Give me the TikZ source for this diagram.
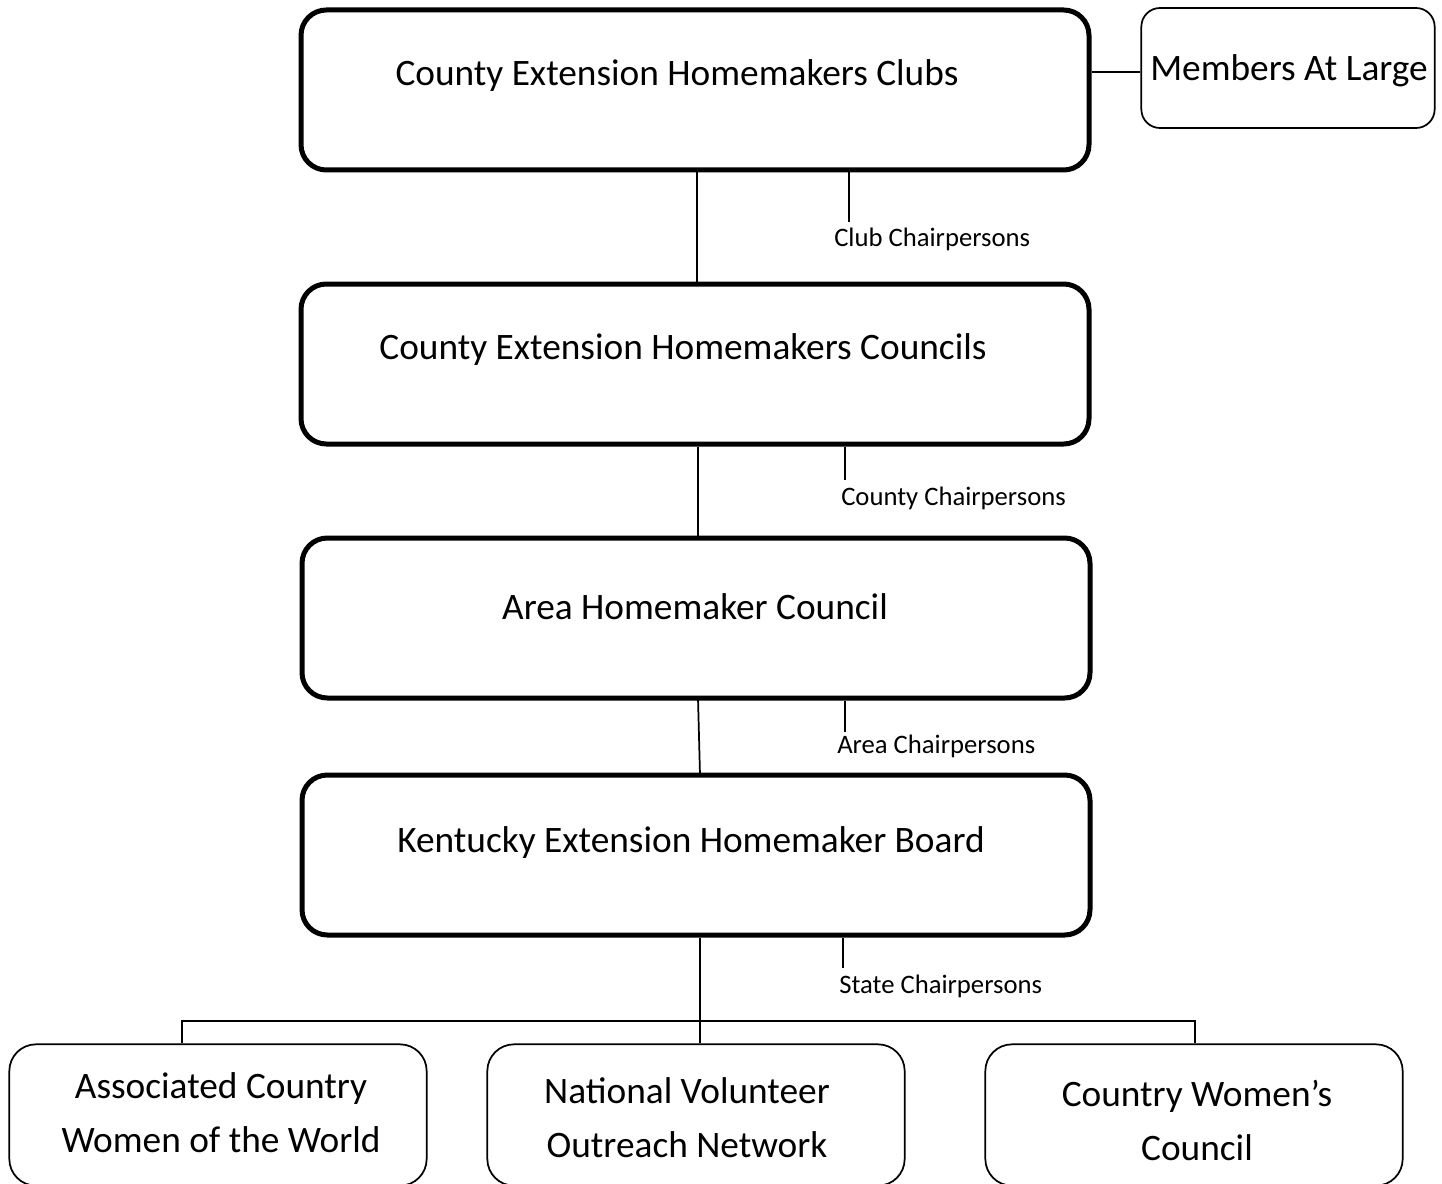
\documentclass[tikz,border=0pt]{standalone}
\usepackage{fontspec}
\setmainfont{Carlito}
\begin{document}
\begin{tikzpicture}[x=0.75pt,y=-0.75pt,
  bigbox/.style={draw,line width=3.75pt,rounded corners=19pt,minimum width=591pt,minimum height=120pt,inner sep=0pt},
  smallbox/.style={draw,line width=1.3pt,rounded corners=14pt,minimum width=220pt,minimum height=90pt,inner sep=0pt},
  botbox/.style={draw,line width=1.3pt,rounded corners=20pt,minimum width=313pt,minimum height=106pt,inner sep=0pt},
  bigtxt/.style={font=\fontsize{28}{32}\selectfont,inner sep=0pt},
  bottxt/.style={font=\fontsize{28}{40.5}\selectfont,inner sep=0pt,align=center},
  chtxt/.style={font=\fontsize{20}{24}\selectfont,inner sep=0pt,anchor=west},
  conn/.style={line width=1.3pt}]
\useasboundingbox (0,0) rectangle (1442,1184);
% main boxes
\node[bigbox] (b1) at (695,90) {};
\node[bigbox] (b2) at (695,364) {};
\node[bigbox] (b3) at (696,618) {};
\node[bigbox] (b4) at (696,855) {};
\node[smallbox] (m) at (1288,68) {};
\node[botbox] (bA) at (218,1115) {};
\node[botbox] (bB) at (696,1115) {};
\node[botbox] (bC) at (1194,1115) {};
% texts
\node[bigtxt] (t1) at (677,76) {County Extension Homemakers Clubs};
\node[bigtxt] (t2) at (683,350) {County Extension Homemakers Councils};
\node[bigtxt] (t3) at (695,607) {Area Homemaker Council};
\node[bigtxt] (t4) at (691,843) {Kentucky Extension Homemaker Board};
\node[bigtxt] (tm) at (1289,71) {Members At Large};
\node[bottxt] (tA) at (221,1113) {Associated Country\\Women of the World};
\node[bottxt] (tB) at (687,1118) {National Volunteer\\Outreach Network};
\node[bottxt] (tC) at (1197,1120) {Country Women’s\\Council};
% chairperson labels
\node[chtxt] (l1) at (834,239) {Club Chairpersons};
\node[chtxt] (l2) at (841,498) {County Chairpersons};
\node[chtxt] (l3) at (837,746) {Area Chairpersons};
\node[chtxt] (l4) at (839,986) {State Chairpersons};
% coordinates
\coordinate (hm) at (0,72);
\coordinate (v1) at (697,0);
\coordinate (v2) at (698,0);
\coordinate (v3a) at (698,698);
\coordinate (v3b) at (700,775);
\coordinate (v4) at (700,0);
\coordinate (k1) at (849,0);
\coordinate (k1e) at (849,222);
\coordinate (k2) at (845,0);
\coordinate (k2e) at (845,480);
\coordinate (k3) at (845,0);
\coordinate (k3e) at (845,732);
\coordinate (k4) at (843,0);
\coordinate (k4e) at (843,968);
\coordinate (hl) at (182,1021);
\coordinate (hr) at (1195,1021);
% connectors
\draw[conn] (b1.east |- hm) -- (m.west |- hm);
\draw[conn] (b1.south -| v1) -- (b2.north -| v1);
\draw[conn] (b2.south -| v2) -- (b3.north -| v2);
\draw[conn] (v3a) -- (v3b);
\draw[conn] (b4.south -| v4) -- (bB.north -| v4);
\draw[conn] (bA.north -| hl) -- (hl) -- (hr) -- (bC.north -| hr);
% chairperson ticks
\draw[conn] (b1.south -| k1) -- (k1e);
\draw[conn] (b2.south -| k2) -- (k2e);
\draw[conn] (b3.south -| k3) -- (k3e);
\draw[conn] (b4.south -| k4) -- (k4e);
\end{tikzpicture}
\end{document}
